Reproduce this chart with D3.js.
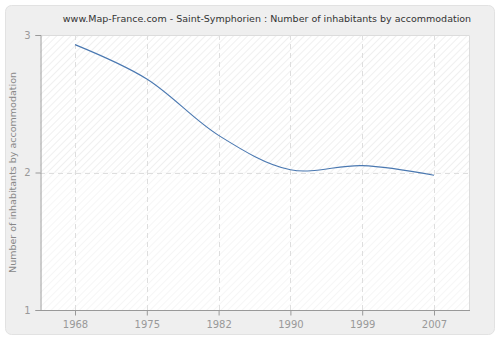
<!DOCTYPE html>
<html lang="en">
<head>
<meta charset="utf-8">
<title>Saint-Symphorien : Number of inhabitants by accommodation</title>
<script src="https://cdnjs.cloudflare.com/ajax/libs/d3/7.8.5/d3.min.js"></script>
<style>
  body { margin: 0; background: #fff; }
  text { font-family: "DejaVu Sans", Verdana, sans-serif; }
</style>
</head>
<body>
<script>
// data
var years = ["1968", "1975", "1982", "1990", "1999", "2007"];
var values = [2.93, 2.68, 2.27, 2.02, 2.05, 1.98];
var yTicks = [1, 2, 3];

var w = 500, h = 340;
var pLeft = 40, pRight = 470, pTop = 35, pBottom = 310;

var svg = d3.select("body").append("svg")
  .attr("width", w)
  .attr("height", h);

// hatch patterns (upper part a bit darker than lower)
var defs = svg.append("defs");
function hatch(id, color) {
  var p = defs.append("pattern")
    .attr("id", id)
    .attr("patternUnits", "userSpaceOnUse")
    .attr("width", 5).attr("height", 5)
    .attr("patternTransform", "rotate(45)");
  p.append("rect").attr("width", 5).attr("height", 5).attr("fill", "#fff");
  p.append("line").attr("x1", 0).attr("y1", 0).attr("x2", 0).attr("y2", 5)
    .attr("stroke", color).attr("stroke-width", 1.2);
}
hatch("hatchTop", "#e6e6e6");
hatch("hatchBot", "#f0f0f0");

// card
svg.append("rect")
  .attr("x", 5.5).attr("y", 5.5)
  .attr("width", w - 11).attr("height", h - 11)
  .attr("rx", 6)
  .attr("fill", "#efefef")
  .attr("stroke", "#e2e2e2");

var x = d3.scalePoint().domain(years).range([75, 434]);
var y = d3.scaleLinear().domain([1, 3]).range([pBottom, pTop]);

// plot background
svg.append("rect")
  .attr("x", pLeft).attr("y", pTop)
  .attr("width", pRight - pLeft).attr("height", y(2) - pTop)
  .attr("fill", "url(#hatchTop)");
svg.append("rect")
  .attr("x", pLeft).attr("y", y(2))
  .attr("width", pRight - pLeft).attr("height", pBottom - y(2))
  .attr("fill", "url(#hatchBot)");
svg.append("path")
  .attr("d", "M" + pLeft + "," + (pTop + 0.5) + "H" + (pRight - 0.5) + "V" + pBottom)
  .attr("fill", "none")
  .attr("stroke", "#dcdcdc");

// grid
svg.append("g").selectAll("line")
  .data(years)
  .enter().append("line")
  .attr("x1", function(d) { return Math.round(x(d)) + 0.5; })
  .attr("x2", function(d) { return Math.round(x(d)) + 0.5; })
  .attr("y1", pTop).attr("y2", pBottom)
  .attr("stroke", "#dedede")
  .attr("stroke-dasharray", "5,4");
svg.append("g").selectAll("line")
  .data([2])
  .enter().append("line")
  .attr("x1", pLeft).attr("x2", pRight)
  .attr("y1", function(d) { return Math.round(y(d)) + 0.5; })
  .attr("y2", function(d) { return Math.round(y(d)) + 0.5; })
  .attr("stroke", "#dedede")
  .attr("stroke-dasharray", "5,4");

// axes
var xAxis = svg.append("g")
  .attr("transform", "translate(0," + (pBottom + 0.5) + ")")
  .call(d3.axisBottom(x).tickSize(5).tickPadding(5));
xAxis.select(".domain").attr("d", "M" + pLeft + ",0H" + pRight);

var yAxis = svg.append("g")
  .attr("transform", "translate(" + (pLeft + 0.5) + ",0)")
  .call(d3.axisLeft(y).tickValues(yTicks).tickFormat(d3.format("d")).tickSize(5).tickPadding(5));

svg.selectAll(".domain, .tick line").attr("stroke", "#999");
svg.selectAll(".tick text")
  .attr("fill", "#999")
  .style("font-size", "10px")
  .style("font-family", "'DejaVu Sans', Verdana, sans-serif");

// line
svg.append("path")
  .datum(values)
  .attr("fill", "none")
  .attr("stroke", "#4a78b1")
  .attr("stroke-width", 1.1)
  .attr("d", d3.line()
    .x(function(d, i) { return x(years[i]); })
    .y(function(d) { return y(d); })
    .curve(d3.curveCatmullRom.alpha(0.5)));

// title
svg.append("text")
  .attr("x", 267).attr("y", 22)
  .attr("text-anchor", "middle")
  .attr("fill", "#333")
  .style("font-size", "9.5px")
  .text("www.Map-France.com - Saint-Symphorien : Number of inhabitants by accommodation");

// y label
svg.append("text")
  .attr("transform", "translate(16," + y(2) + ") rotate(-90)")
  .attr("text-anchor", "middle")
  .attr("fill", "#888")
  .style("font-size", "9.5px")
  .text("Number of inhabitants by accommodation");
</script>
</body>
</html>
